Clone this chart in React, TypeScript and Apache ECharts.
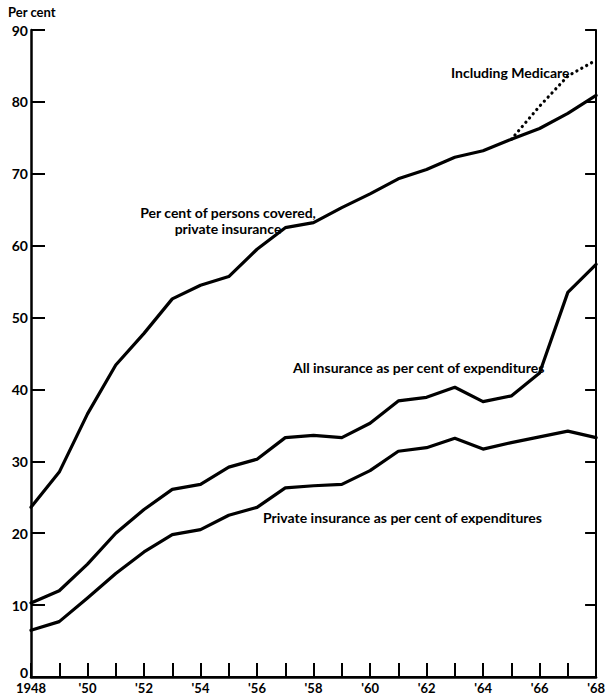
import React, { useEffect, useRef } from "react";
import * as echarts from "echarts";

const years = [1948, 1949, 1950, 1951, 1952, 1953, 1954, 1955, 1956, 1957, 1958, 1959, 1960, 1961, 1962, 1963, 1964, 1965, 1966, 1967, 1968];
const personsCovered = [23.6, 28.5, 36.6, 43.4, 47.8, 52.6, 54.5, 55.7, 59.5, 62.5, 63.2, 65.3, 67.2, 69.3, 70.6, 72.3, 73.2, 74.8, 76.3, 78.4, 80.9];
const medicareYears = [1965, 1966, 1967, 1968];
const includingMedicare = [74.8, 79.4, 83.6, 85.8];
const allInsurance = [10.3, 12.0, 15.7, 20.0, 23.3, 26.1, 26.8, 29.2, 30.3, 33.3, 33.6, 33.3, 35.3, 38.4, 38.9, 40.3, 38.3, 39.1, 42.3, 53.5, 57.4];
const privateInsurance = [6.5, 7.7, 11.0, 14.4, 17.4, 19.8, 20.5, 22.5, 23.6, 26.3, 26.6, 26.8, 28.7, 31.4, 31.9, 33.2, 31.7, 32.6, 33.4, 34.2, 33.3];
const yTicks = [0, 10, 20, 30, 40, 50, 60, 70, 80, 90];

const FONT = "Lato, 'DejaVu Sans', sans-serif";

export default function App() {
  const ref = useRef<HTMLDivElement>(null);
  useEffect(() => {
    document.body.style.margin = "0";
    const chart = echarts.init(ref.current!, null, { renderer: "svg" });
    const pairs = (xs: number[], vs: number[]) => xs.map((x, i) => [x, vs[i]]);
    const lineSeries = (name: string, data: number[][], dotted = false) => ({
      name,
      type: "line",
      data,
      symbol: "none",
      lineStyle: dotted
        ? { color: "#000", width: 3.2, type: [0.1, 5.5], cap: "round" }
        : { color: "#000", width: 3.2, join: "round", cap: "round" },
      z: dotted ? 3 : 4,
    });
    const textStyle = { fontFamily: FONT, fontWeight: "bold", fontSize: 14, fill: "#000" };
    chart.setOption({
      animation: false,
      backgroundColor: "#fff",
      grid: { left: 31, right: 5, top: 30, bottom: 17, show: false },
      xAxis: [
        {
          type: "value",
          min: years[0],
          max: years[years.length - 1],
          interval: 1,
          axisLine: { show: true, lineStyle: { color: "#000", width: 2.5 } },
          axisTick: { show: true, inside: true, length: 14, lineStyle: { color: "#000", width: 2 } },
          splitLine: { show: false },
          axisLabel: {
            show: true,
            margin: 4,
            color: "#000",
            fontFamily: FONT,
            fontWeight: "bold",
            fontSize: 13,
            formatter: (v: number) => {
              if (v === years[0]) return String(v);
              if ((v - years[0]) % 2 !== 0) return "";
              return "'" + String(v).slice(2);
            },
          },
        },
        {
          type: "value",
          position: "top",
          min: years[0],
          max: years[years.length - 1],
          axisLine: { show: true, lineStyle: { color: "#000", width: 2 } },
          axisTick: { show: false },
          axisLabel: { show: false },
          splitLine: { show: false },
        },
      ],
      yAxis: [
        {
          type: "value",
          min: yTicks[0],
          max: yTicks[yTicks.length - 1],
          interval: 10,
          axisLine: { show: true, lineStyle: { color: "#000", width: 2.5 } },
          axisTick: { show: true, inside: true, length: 14, lineStyle: { color: "#000", width: 2 } },
          splitLine: { show: false },
          axisLabel: {
            margin: 3,
            color: "#000",
            fontFamily: FONT,
            fontWeight: "bold",
            fontSize: 14,
            formatter: (v: number) => (v === 0 ? "{z|0}" : String(v)),
            rich: {
              z: { fontFamily: FONT, fontWeight: "bold", fontSize: 14, color: "#000", padding: [0, 0, 9, 0] },
            },
          },
        },
        {
          type: "value",
          position: "right",
          min: yTicks[0],
          max: yTicks[yTicks.length - 1],
          interval: 10,
          axisLine: { show: true, lineStyle: { color: "#000", width: 2 } },
          axisTick: { show: true, inside: true, length: 11, lineStyle: { color: "#000", width: 2 } },
          axisLabel: { show: false },
          splitLine: { show: false },
        },
      ],
      series: [
        lineSeries("Per cent of persons covered, private insurance", pairs(years, personsCovered)),
        lineSeries("Including Medicare", pairs(medicareYears, includingMedicare), true),
        lineSeries("All insurance as per cent of expenditures", pairs(years, allInsurance)),
        lineSeries("Private insurance as per cent of expenditures", pairs(years, privateInsurance)),
      ],
      graphic: [
        { type: "text", left: 8, top: 5, style: { ...textStyle, fontSize: 13, text: "Per cent" } },
        { type: "text", left: 451, top: 65, style: { ...textStyle, text: "Including Medicare" } },
        {
          type: "text",
          x: 228,
          y: 204,
          style: {
            ...textStyle,
            text: "Per cent of persons covered,\nprivate insurance",
            align: "center",
            verticalAlign: "top",
            lineHeight: 16,
          },
        },
        { type: "text", left: 293, top: 360, style: { ...textStyle, text: "All insurance as per cent of expenditures" } },
        { type: "text", left: 263, top: 510, style: { ...textStyle, text: "Private insurance as per cent of expenditures" } },
      ],
    });
    return () => chart.dispose();
  }, []);
  return <div ref={ref} style={{ position: "fixed", left: 0, top: 0, width: 608, height: 694 }} />;
}
